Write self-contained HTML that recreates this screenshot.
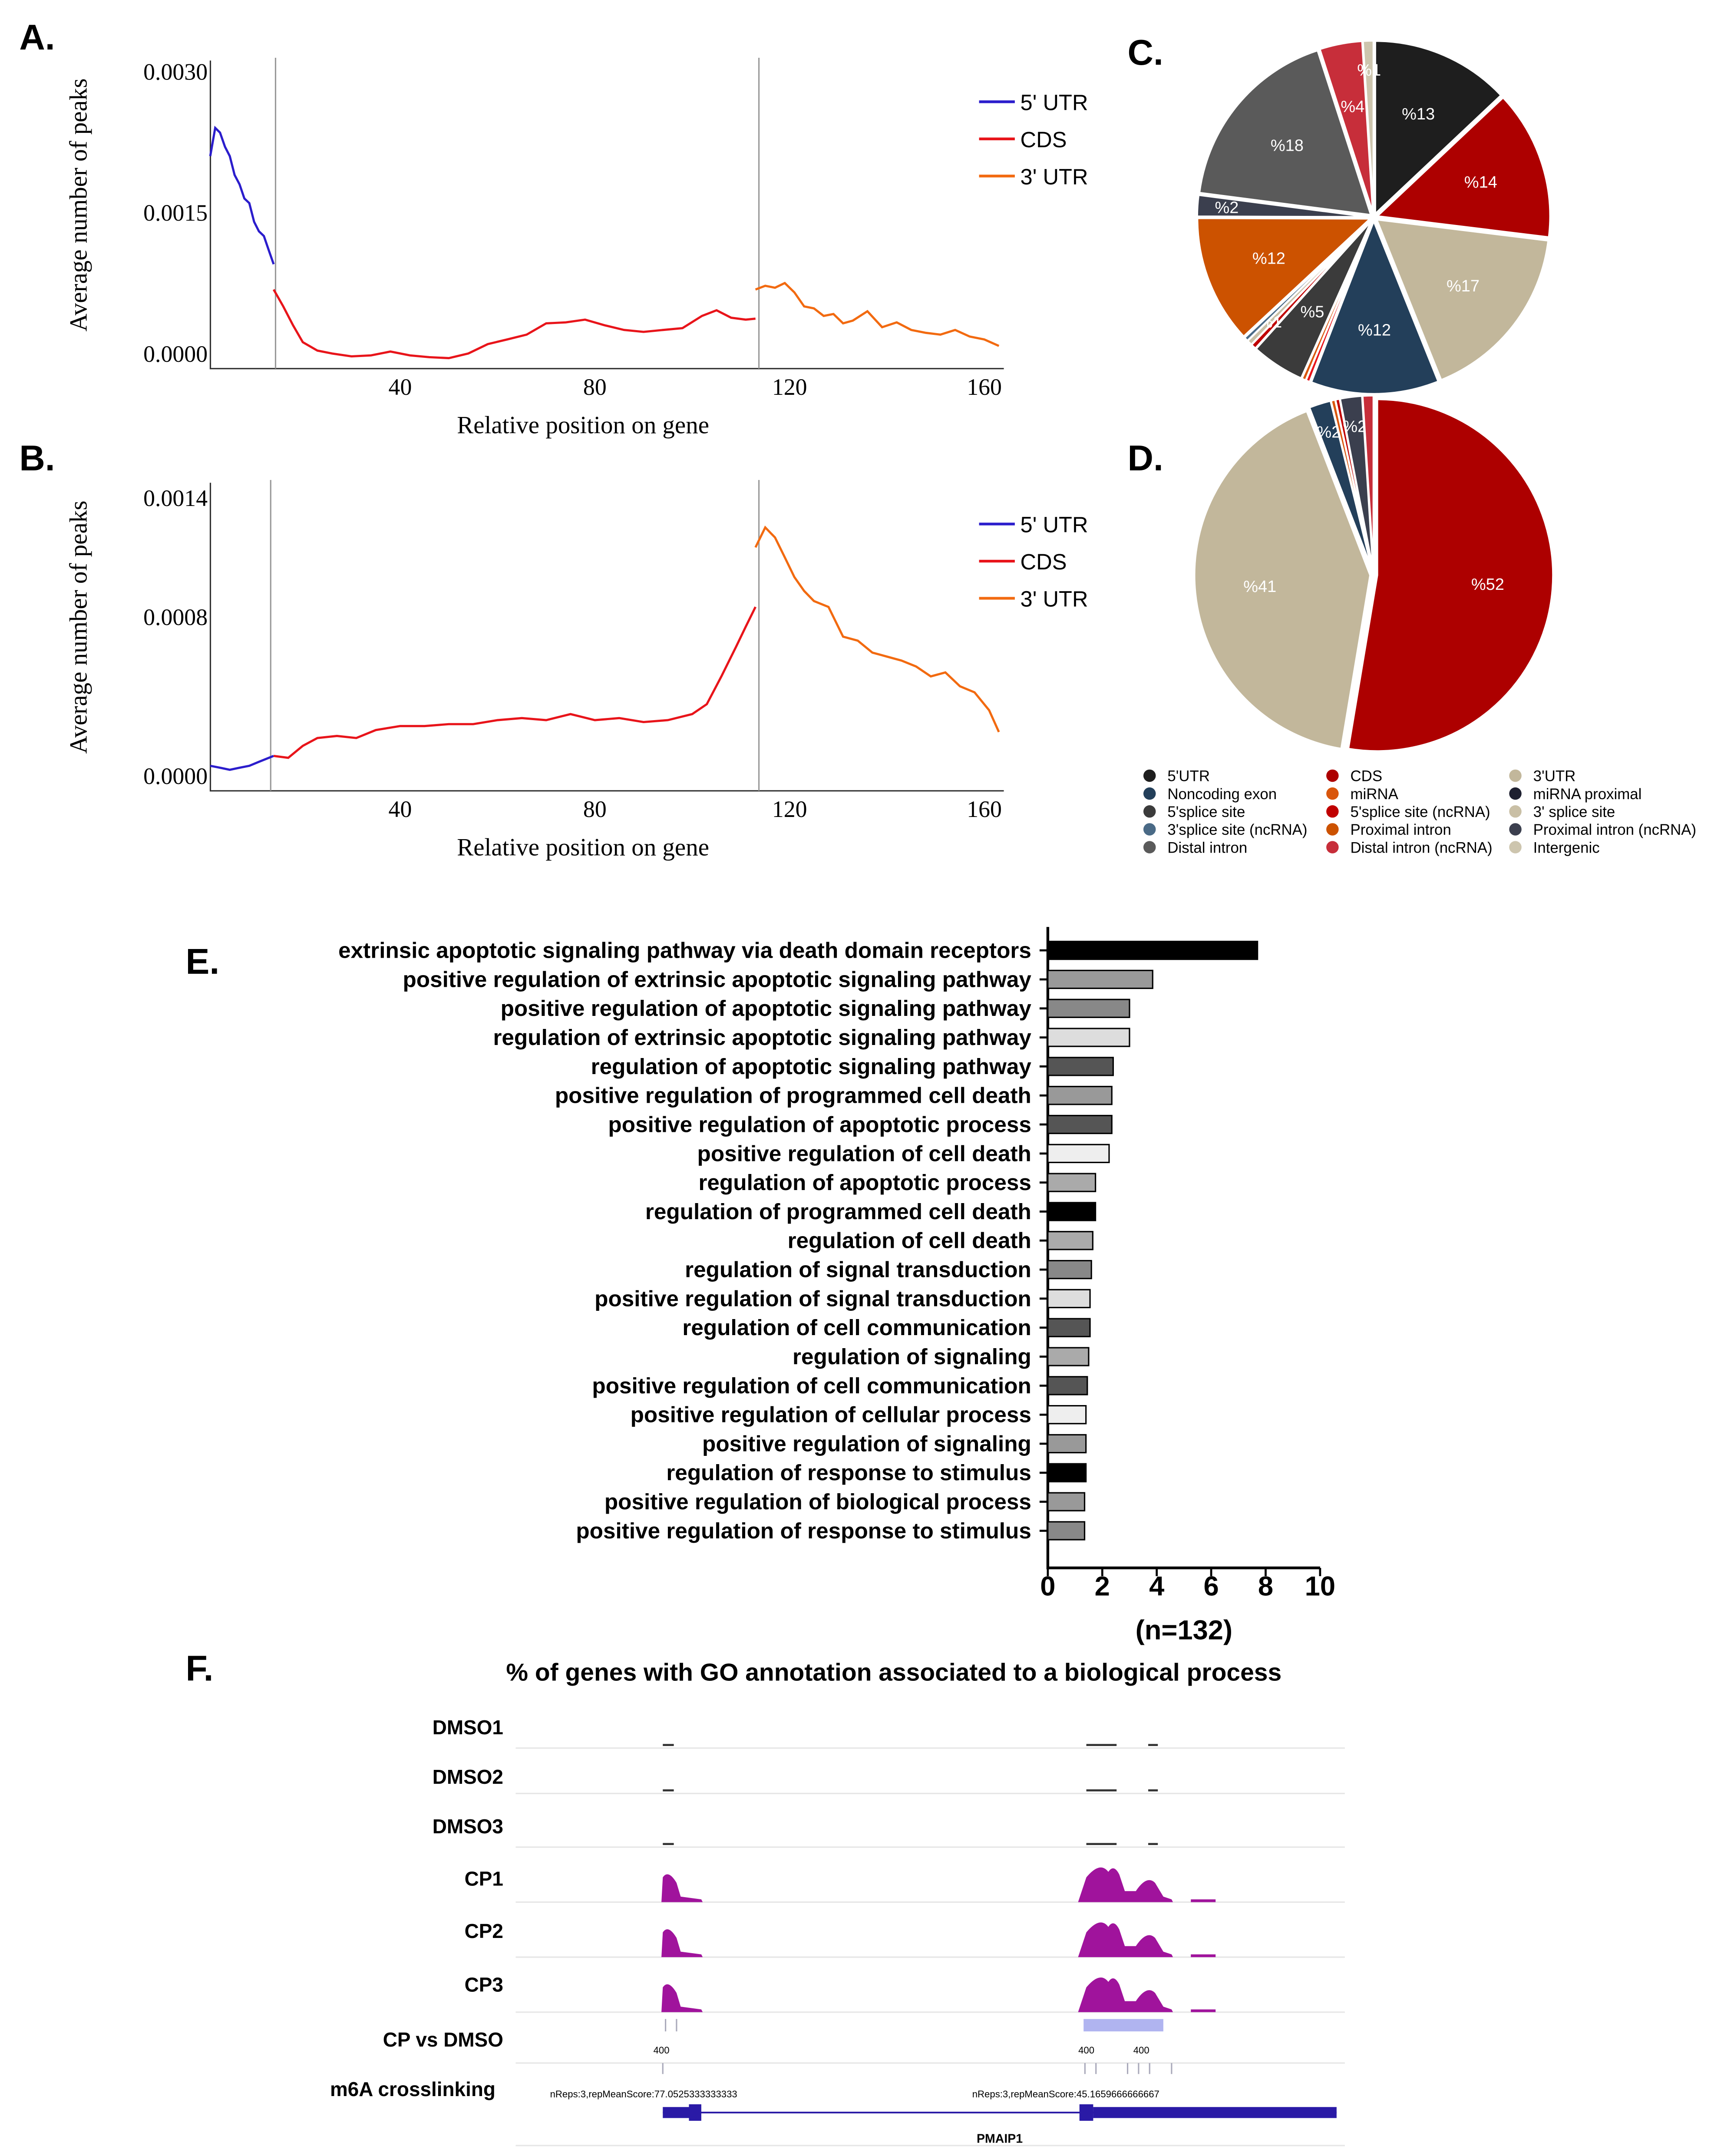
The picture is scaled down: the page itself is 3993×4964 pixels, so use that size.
<!DOCTYPE html>
<html><head><meta charset="utf-8"><style>
html,body{margin:0;padding:0;background:#fff}
svg{display:block}
.serif{font-family:"Liberation Serif",serif}
.sans{font-family:"Liberation Sans",sans-serif}
</style></head><body>
<svg id="fig" width="3993" height="4964" viewBox="0 0 1261 1567.6" preserveAspectRatio="none" xmlns="http://www.w3.org/2000/svg">
<rect width="1261" height="1567.6" fill="#fff"/>
<g class="sans" font-weight="bold" font-size="26" fill="#000">
<text x="14" y="36">A.</text>
<text x="14" y="342">B.</text>
<text x="820" y="47">C.</text>
<text x="820" y="342">D.</text>
<text x="135" y="708">E.</text>
<text x="135" y="1222">F.</text>
</g>
<g id="gA"></g>
<g id="gB"></g>
<g id="gC"></g>
<g id="gD"></g>
<g id="legD"></g>
<g id="gE"></g>
<g id="gF"></g>
</svg>
<script>
// ---------- Panel A/B data ----------
const aUtr5X=[1,2,3,4,5,6,7,8,9,10,11,12,13,14];
const aUtr5Y=[0.0021,0.0024,0.00235,0.0022,0.0021,0.0019,0.0018,0.00165,0.0016,0.0014,0.0013,0.00125,0.0011,0.00095];
const aCdsX=[14,16,18,20,23,26,30,34,38,42,46,50,54,58,62,66,70,74,78,82,86,90,94,98,102,105,108,111,113];
const aCdsY=[0.00068,0.0005,0.0003,0.00012,0.00003,0.0,-0.00003,-0.00002,0.00002,-0.00002,-0.00004,-0.00005,0.0,0.0001,0.00015,0.0002,0.00032,0.00033,0.00036,0.0003,0.00025,0.00023,0.00025,0.00027,0.0004,0.00046,0.00038,0.00036,0.00037];
const aUtr3X=[113,115,117,119,121,123,125,127,129,131,133,136,139,142,145,148,151,154,157,160,163];
const aUtr3Y=[0.00068,0.00072,0.0007,0.00075,0.00065,0.0005,0.00048,0.0004,0.00042,0.00032,0.00035,0.00045,0.00028,0.00033,0.00025,0.00022,0.0002,0.00025,0.00018,0.00015,0.00008];
const bUtr5X=[1,3,5,7,9,11,14];
const bUtr5Y=[0.00005,0.00004,0.00003,0.00004,0.00005,0.00007,0.0001];
const bCdsX=[14,17,20,23,27,31,35,40,45,50,55,60,65,70,75,80,85,90,95,100,103,106,109,111,113];
const bCdsY=[0.0001,0.00009,0.00015,0.00019,0.0002,0.00019,0.00023,0.00025,0.00025,0.00026,0.00026,0.00028,0.00029,0.00028,0.00031,0.00028,0.00029,0.00027,0.00028,0.00031,0.00036,0.0005,0.00065,0.00075,0.00085];
const bUtr3X=[113,115,117,119,121,123,125,128,131,134,137,140,143,146,149,152,155,158,161,163];
const bUtr3Y=[0.00115,0.00125,0.0012,0.0011,0.001,0.00093,0.00088,0.00085,0.0007,0.00068,0.00062,0.0006,0.00058,0.00055,0.0005,0.00052,0.00045,0.00042,0.00033,0.00022];
const aYTicks=[0.0030,0.0015,0.0000];
const bYTicks=[0.0014,0.0008,0.0000];
const xTicks=[40,80,120,160];
const seriesNames=["5' UTR","CDS","3' UTR"];
const seriesColors=["#2b1dcc","#e8141a","#f26a10"];
const NS="http://www.w3.org/2000/svg";
function mk(p,tag,at,txt){const e=document.createElementNS(NS,tag);for(const k in at)e.setAttribute(k,at[k]);if(txt!==undefined)e.textContent=txt;p.appendChild(e);return e;}

function metagene(gid,top,yMax,yTicks,sets,vlines){
  const g=document.getElementById(gid);
  const x0=153,x1=730,axisY=top+216;
  const xs=v=>291+(v-40)*3.54;
  const ys=v=>(top+205)-v/yMax*(205-0);
  const ax=mk(g,'path',{d:`M${x0},${top-8} V${axisY} H${x1}`,stroke:'#333',fill:'none','stroke-width':1});
  
  vlines.forEach(v=>{const l=mk(g,'line',{x1:xs(v),x2:xs(v),y1:top-10,y2:axisY,stroke:'#999','stroke-width':1});
    });
  yTicks.forEach(t=>{const tx=mk(g,'text',{x:x0-2,y:ys(t)+6,'text-anchor':'end','font-size':17,class:'serif'},t.toFixed(4));
    });
  xTicks.forEach(t=>{const tx=mk(g,'text',{x:xs(t),y:axisY+19,'text-anchor':'middle','font-size':17,class:'serif'},t);
    });
  const xt=mk(g,'text',{x:424,y:axisY+47,'text-anchor':'middle','font-size':18,class:'serif'},'Relative position on gene');
  
  const yt=mk(g,'text',{x:0,y:0,'text-anchor':'middle','font-size':18,class:'serif',transform:`translate(63,${top+97}) rotate(-90)`},'Average number of peaks');
  
  sets.forEach((s,i)=>{
    const d=s[0].map((v,j)=>(j?'L':'M')+xs(v).toFixed(1)+','+ys(s[1][j]).toFixed(1)).join(' ');
    const p=mk(g,'path',{d,stroke:seriesColors[i],fill:'none','stroke-width':1.6});
    
    const ly=top+22+i*27;
    const ll=mk(g,'line',{x1:712,x2:738,y1:ly,y2:ly,stroke:seriesColors[i],'stroke-width':2});
    
    const lt=mk(g,'text',{x:742,y:ly+6,'font-size':16,class:'sans'},seriesNames[i]);
    
  });
}
metagene('gA',52,0.0030,aYTicks,[[aUtr5X,aUtr5Y],[aCdsX,aCdsY],[aUtr3X,aUtr3Y]],[14.4,113.7]);
metagene('gB',359,0.00142,bYTicks,[[bUtr5X,bUtr5Y],[bCdsX,bCdsY],[bUtr3X,bUtr3Y]],[13.4,113.7]);

// ---------- Pies ----------
const pieCValues=[13,14,17,12,0.4,0.4,5,0.5,0.5,0.4,12,2,18,4,1];
const pieCColors=["#1e1e1e","#ad0000","#c2b79b","#233f5a","#e8141a","#d9560c","#3b3b3b","#c00000","#c9bfa5","#4a6a86","#cc5200","#3b3f4e","#5a5a5a","#c72e3a","#cdc5ae"];
const pieCLabels=["%13","%14","%17","%12","","","%5","","%1","","%12","%2","%18","%4","%1"];
const pieDValues=[52,41,2,0.4,0.4,2,1];
const pieDColors=["#ad0000","#c2b79b","#233f5a","#d9560c","#c00000","#3b3f4e","#c72e3a"];
const pieDLabels=["%52","%41","%2","","","%2",""];
function pie(gid,cx,cy,r,vals,cols,labs){
  const g=document.getElementById(gid);const tot=vals.reduce((a,b)=>a+b,0);let a=0;
  vals.forEach((v,i)=>{
    const a0=a/tot*2*Math.PI,a1=(a+v)/tot*2*Math.PI;a+=v;
    const mid=(a0+a1)/2, off=2.5;
    const ox=cx+off*Math.sin(mid),oy=cy-off*Math.cos(mid);
    const p0=[ox+r*Math.sin(a0),oy-r*Math.cos(a0)],p1=[ox+r*Math.sin(a1),oy-r*Math.cos(a1)];
    const path=mk(g,'path',{d:`M${ox},${oy} L${p0[0]},${p0[1]} A${r},${r} 0 ${a1-a0>Math.PI?1:0} 1 ${p1[0]},${p1[1]} Z`,fill:cols[i],stroke:'#fff','stroke-width':1.5});
    
    if(labs[i]){const lr=v<3?r*0.85:r*0.65;
      const t=mk(g,'text',{x:cx+lr*Math.sin(mid),y:cy-lr*Math.cos(mid)+4,'text-anchor':'middle','font-size':12,fill:'#fff',class:'sans'},labs[i]);
      }
  });
}
pie('gC',999,158,126,pieCValues,pieCColors,pieCLabels);
pie('gD',999,418,128,pieDValues,pieDColors,pieDLabels);
const legNames=["5'UTR","CDS","3'UTR","Noncoding exon","miRNA","miRNA proximal","5'splice site","5'splice site (ncRNA)","3' splice site","3'splice site (ncRNA)","Proximal intron","Proximal intron (ncRNA)","Distal intron","Distal intron (ncRNA)","Intergenic"];
const legColors=["#1e1e1e","#ad0000","#c2b79b","#233f5a","#d9560c","#1e2030","#3b3b3b","#c00000","#c9bfa5","#4a6a86","#cc5200","#3b3f4e","#5a5a5a","#c72e3a","#cdc5ae"];
(function(){const g=document.getElementById('legD');
 legNames.forEach((n,i)=>{const c=i%3,rw=Math.floor(i/3);const x=[836,969,1102][c],y=564+rw*13;
  const d=mk(g,'circle',{cx:x,cy:y,r:4.5,fill:legColors[i]});
  const t=mk(g,'text',{x:x+13,y:y+4,'font-size':11,class:'sans'},n);});})();

// ---------- Panel E ----------
const goTerms=["extrinsic apoptotic signaling pathway via death domain receptors","positive regulation of extrinsic apoptotic signaling pathway","positive regulation of apoptotic signaling pathway","regulation of extrinsic apoptotic signaling pathway","regulation of apoptotic signaling pathway","positive regulation of programmed cell death","positive regulation of apoptotic process","positive regulation of cell death","regulation of apoptotic process","regulation of programmed cell death","regulation of cell death","regulation of signal transduction","positive regulation of signal transduction","regulation of cell communication","regulation of signaling","positive regulation of cell communication","positive regulation of cellular process","positive regulation of signaling","regulation of response to stimulus","positive regulation of biological process","positive regulation of response to stimulus"];
const goValues=[7.7,3.85,3.0,3.0,2.4,2.35,2.35,2.25,1.75,1.75,1.65,1.6,1.55,1.55,1.5,1.45,1.4,1.4,1.4,1.35,1.35];
const goColors=["#000","#999","#888","#ddd","#555","#999","#555","#eee","#aaa","#000","#aaa","#888","#ddd","#555","#aaa","#555","#eee","#999","#000","#999","#888"];
const eTicks=[0,2,4,6,8,10];
(function(){const g=document.getElementById('gE');
 const xs=v=>762+v*19.8, ys=i=>691+i*21.1;
 const ax=mk(g,'path',{d:'M762,674 V1140 H960',stroke:'#000','stroke-width':2,fill:'none'});
 goTerms.forEach((t,i)=>{
  const b=mk(g,'rect',{x:xs(0),y:ys(i)-6.5,width:xs(goValues[i])-xs(0),height:13,fill:goColors[i],stroke:'#000','stroke-width':1});
  
  const tk=mk(g,'line',{x1:756,x2:762,y1:ys(i),y2:ys(i),stroke:'#000','stroke-width':1.5});
  const tx=mk(g,'text',{x:750,y:ys(i)+5.5,'text-anchor':'end','font-size':16.2,'font-weight':'bold',class:'sans'},t);
  });
 eTicks.forEach(t=>{const tk=mk(g,'line',{x1:xs(t),x2:xs(t),y1:1140,y2:1146,stroke:'#000','stroke-width':1.5});
  const tx=mk(g,'text',{x:xs(t),y:1160,'text-anchor':'middle','font-size':20,'font-weight':'bold',class:'sans'},t);});
 const n=mk(g,'text',{x:861,y:1192,'text-anchor':'middle','font-size':20,'font-weight':'bold',class:'sans'},'(n=132)');
 const tt=mk(g,'text',{x:650,y:1222,'text-anchor':'middle','font-size':18,'font-weight':'bold',class:'sans'},'% of genes with GO annotation associated to a biological process');
})();

// ---------- Panel F ----------
const trackNames=["DMSO1","DMSO2","DMSO3","CP1","CP2","CP3","CP vs DMSO"];
const trackY=[1256,1292,1328,1366,1404,1443,1483];
(function(){const g=document.getElementById('gF');
 trackNames.forEach((n,i)=>{const t=mk(g,'text',{x:366,y:trackY[i]+5,'text-anchor':'end','font-size':14.5,'font-weight':'bold',class:'sans'},n);
  });
 const m=mk(g,'text',{x:240,y:1524,'font-size':14.5,'font-weight':'bold',class:'sans'},'m6A crosslinking');
 [1271,1304,1343,1383,1423,1463,1500,1560].forEach(y=>{const l=mk(g,'line',{x1:375,x2:978,y1:y,y2:y,stroke:'#e6e6e6','stroke-width':1});});
 [1271,1304,1343].forEach(y=>{[[482,490],[790,812],[835,842]].forEach(s=>{const r=mk(g,'rect',{x:s[0],y:y-3,width:s[1]-s[0],height:1.5,fill:'#333'});});});
 [1383,1423,1463].forEach((b,k)=>{
  const d=`M481,${b} L482,${b-18} Q486,${b-24} 492,${b-14} L495,${b-4} L510,${b-2} L511,${b} Z M784,${b} L790,${b-18} Q800,${b-30} 806,${b-22} Q810,${b-28} 814,${b-20} L818,${b-8} L826,${b-8} Q834,${b-20} 840,${b-14} L846,${b-4} L852,${b-2} L853,${b} Z M866,${b} L866,${b-2} L884,${b-2} L884,${b} Z`;
  const p=mk(g,'path',{d,fill:'#a0139c'});});
 const dr=mk(g,'path',{d:'M788,1468 H846 V1477 H788 Z',fill:'#b0b4f0'});
 [[484],[492]].forEach(s=>{const l=mk(g,'line',{x1:s[0],x2:s[0],y1:1468,y2:1477,stroke:'#aab','stroke-width':1});});
 [[481,'400'],[790,'400'],[830,'400']].forEach(s=>{const t=mk(g,'text',{x:s[0],y:1493,'text-anchor':'middle','font-size':7,class:'sans'},s[1]);});
 [482,789,797,820,828,836,852].forEach(x=>{const l=mk(g,'line',{x1:x,x2:x,y1:1500,y2:1508,stroke:'#aab','stroke-width':1});});
 [[400,'nReps:3,repMeanScore:77.0525333333333'],[707,'nReps:3,repMeanScore:45.1659666666667']].forEach(s=>{const t=mk(g,'text',{x:s[0],y:1525,'font-size':7,class:'sans'},s[1]);});
 const gl=mk(g,'line',{x1:482,x2:972,y1:1536,y2:1536,stroke:'#2a1aa6','stroke-width':1.2});
 [[482,1532,20,8],[501,1530,9,12],[785,1530,10,12],[795,1532,177,8]].forEach(s=>{const r=mk(g,'rect',{x:s[0],y:s[1],width:s[2],height:s[3],fill:'#2a1aa6'});});
 const gn=mk(g,'text',{x:727,y:1558,'text-anchor':'middle','font-size':9,'font-weight':'bold',class:'sans'},'PMAIP1');
})();
</script>
</body></html>
